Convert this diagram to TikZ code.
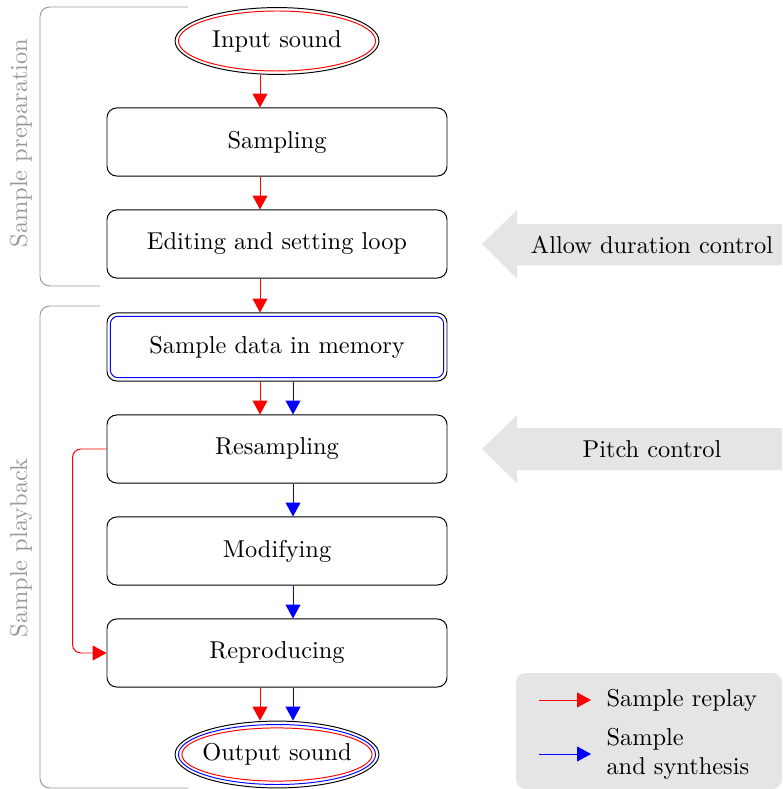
\documentclass[tikz,border=0pt]{standalone}
\usetikzlibrary{arrows.meta,shapes.geometric}
\begin{document}
\begin{tikzpicture}[x=0.41pt,y=-0.41pt,
  stepbox/.style={draw, rounded corners=4pt, minimum width=139.4pt, minimum height=27.9pt, inner sep=0pt},
  endpoint/.style={draw, ellipse, minimum width=83.6pt, minimum height=27.4pt, inner sep=0pt},
  flow/.style={-{Triangle[length=5.7pt,width=6.1pt]}},
  flowr/.style={flow, red},
  flowb/.style={flow, blue},
  brk/.style={draw=black!40, rounded corners=4pt},
  grouplabel/.style={text=black!40, rotate=90},
  note/.style={fill=black!10},
]
\useasboundingbox (0,0) rectangle (782,789);

% processing chain
\node[endpoint] (in) at (277,41) {\makebox[40pt]{Input sound}};
\draw[red] (in.center) ellipse [x radius=40.4pt, y radius=12.3pt];

\node[stepbox] (samp)  at (277,142) {Sampling};
\node[stepbox] (edit)  at (277,244) {Editing and setting loop};
\node[stepbox] (mem)   at (277,347) {Sample data in memory};
\draw[blue, rounded corners=3.2pt] ([shift={(3.8,3.8)}]mem.north west) rectangle ([shift={(-3.8,-3.8)}]mem.south east);
\node[stepbox] (resamp) at (277,449) {Resampling};
\node[stepbox] (modif)  at (277,551) {Modifying};
\node[stepbox] (repro)  at (277,653) {Reproducing};

\node[endpoint] (out) at (277,754.5) {\makebox[40pt]{Output sound}};
\draw[blue] (out.center) ellipse [x radius=40.4pt, y radius=12.3pt];
\draw[red]  (out.center) ellipse [x radius=39.0pt, y radius=10.9pt];

% lanes for the two flows
\coordinate (rx) at (260,0);
\coordinate (bx) at (293,0);

\draw[flowr] (in.south -| rx) -- (samp.north -| rx);
\draw[flowr] (samp.south -| rx) -- (edit.north -| rx);
\draw[flowr] (edit.south -| rx) -- (mem.north -| rx);
\draw[flowr] (mem.south -| rx) -- (resamp.north -| rx);
\draw[flowb] (mem.south -| bx) -- (resamp.north -| bx);
\draw[flowb] (resamp.south -| bx) -- (modif.north -| bx);
\draw[flowb] (modif.south -| bx) -- (repro.north -| bx);
\draw[flowr] (repro.south -| rx) -- (out.north -| rx);
\draw[flowb] (repro.south -| bx) -- (out.north -| bx);
\draw[flowr, rounded corners=3.5pt] (resamp.west) -- ++(-34,0) |- (repro.west);

% group brackets
\draw[brk] (188,7) -- (40,7) -- (40,286) -- (100,286);
\draw[brk] (100,306) -- (40,306) -- (40,788) -- (188,788);
\node[grouplabel] (prep) at (21,143) {Sample preparation};
\node[grouplabel] (play) at (21,548) {Sample playback};

% control hints
\fill[note] (482,244) -- (517,210) -- (517,224) -- (782,224) -- (782,265.5) -- (517,265.5) -- (517,279) -- cycle;
\node (dur) at (652,245) {Allow duration control};
\fill[note] (482,449) -- (517,415) -- (517,428) -- (782,428) -- (782,470) -- (517,470) -- (517,483) -- cycle;
\node (pitch) at (652,449) {Pitch control};

% legend
\fill[note, rounded corners=4pt] (516,673) rectangle (782,789);
\coordinate (lr1) at (539,700);
\coordinate (lr2) at (591,700);
\coordinate (lb1) at (539,754);
\coordinate (lb2) at (591,754);
\draw[flowr] (lr1) -- (lr2);
\draw[flowb] (lb1) -- (lb2);
\node[anchor=west, inner sep=0pt] (lrt) at (606,700) {Sample replay};
\node[anchor=west, inner sep=0pt, align=left] (lbt) at (606,754) {Sample\\and synthesis};
\end{tikzpicture}
\end{document}
